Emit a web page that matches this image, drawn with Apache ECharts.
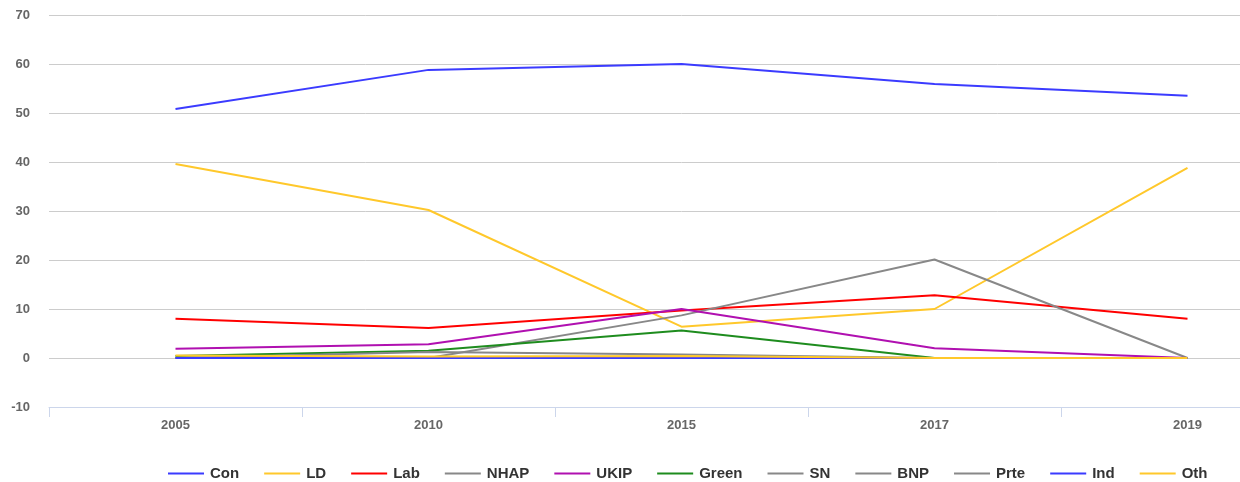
<!DOCTYPE html>
<html>
<head>
<meta charset="utf-8">
<script src="https://cdn.jsdelivr.net/npm/echarts@6/dist/echarts.min.js"></script>
<style>html,body{margin:0;padding:0;background:#fff;overflow:hidden;width:1240px;height:482px}#c{width:1314px;height:482px}</style>
</head>
<body>
<div id="c"></div>
<script>
const categories = ['2005','2010','2015','2017','2019'];
const seriesNames = ['Con','LD','Lab','NHAP','UKIP','Green','SN','BNP','Prte','Ind','Oth'];
const Con   = [50.8, 58.8, 60.0, 55.9, 53.5];
const LD    = [39.6, 30.2, 6.4, 10.0, 38.8];
const Lab   = [8.0, 6.1, 9.7, 12.8, 8.0];
const NHAP  = [0, 0, 8.7, 20.1, 0];
const UKIP  = [1.9, 2.8, 10.0, 2.0, 0];
const Green = [0.4, 1.5, 5.6, 0, 0];
const SN    = [0, 1.2, 0.7, 0, 0];
const BNP   = [0, 0, 0, 0, 0];
const Prte  = [0, 0, 0, 0, 0];
const Ind   = [0, 0, 0, 0, 0];
const Oth   = [0.5, 0.3, 0.4, 0, 0];
const yTicks = [-10, 0, 10, 20, 30, 40, 50, 60, 70];

const values = [Con, LD, Lab, NHAP, UKIP, Green, SN, BNP, Prte, Ind, Oth];
const colors = ['#3b3bff','#ffc82b','#ff0000','#888888','#b010b0','#1e8c1e','#888888','#888888','#888888','#3b3bff','#ffc82b'];
const font = 'Liberation Sans, Arial, sans-serif';

const chart = echarts.init(document.getElementById('c'), null, {renderer:'canvas'});
chart.setOption({
  animation: false,
  backgroundColor: '#fff',
  grid: {left: 49, top: 15, right: 0, height: 392, containLabel: false},
  legend: {
    left: 163, top: 461,
    icon: 'rect',
    itemWidth: 36, itemHeight: 2, itemGap: 25,
    textStyle: {color: '#333', fontSize: 15, fontWeight: 'bold', fontFamily: font, padding: [0,0,0,1]},
    data: seriesNames
  },
  xAxis: {
    type: 'category', data: categories, boundaryGap: true,
    axisLine: {onZero: false, lineStyle: {color: '#ccd6eb'}},
    axisTick: {show: true, length: 10, lineStyle: {color: '#ccd6eb'}},
    axisLabel: {color: '#666', fontSize: 13, fontWeight: 'bold', margin: 12, fontFamily: font}
  },
  yAxis: {
    type: 'value', min: yTicks[0], max: yTicks[yTicks.length-1], interval: 10,
    axisLine: {show: false}, axisTick: {show: false},
    splitLine: {lineStyle: {color: '#cccccc'}},
    axisLabel: {color: '#666', fontSize: 13, fontWeight: 'bold', margin: 19, fontFamily: font}
  },
  series: seriesNames.map((n, i) => ({
    name: n, type: 'line', data: values[i],
    symbol: 'none', showSymbol: false,
    lineStyle: {width: 2, color: colors[i]},
    itemStyle: {color: colors[i]}
  }))
});
</script>
</body>
</html>
